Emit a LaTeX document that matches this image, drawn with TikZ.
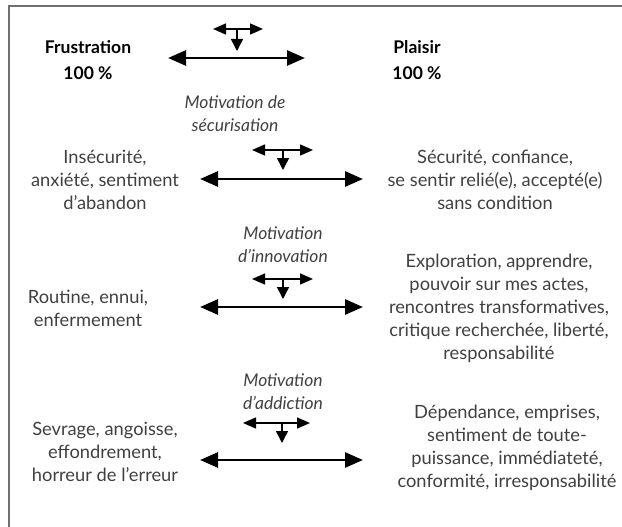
\documentclass[tikz,border=0pt]{standalone}
\usepackage{fontspec}
\setmainfont{Lato}
\usetikzlibrary{arrows.meta}
\definecolor{txt}{HTML}{404040}
\definecolor{frame}{HTML}{707070}
\begin{document}
\begin{tikzpicture}[x=1pt,y=-1pt,
 body/.style={font=\fontsize{18.3}{23}\selectfont, text=txt, align=center, inner sep=0pt},
 title/.style={font=\fontsize{17.5}{26}\selectfont\bfseries, align=center, inner sep=0pt},
 motiv/.style={font=\fontsize{17.5}{23}\selectfont\itshape, text=txt, align=center, inner sep=0pt},
 bigarrow/.style={line width=2.8pt, {Triangle[length=18pt,width=15pt]}-{Triangle[length=18pt,width=15pt]}},
 smallarrow/.style={line width=1.5pt, {Triangle[length=13pt,width=11pt]}-{Triangle[length=13pt,width=11pt]}},
 downarrow/.style={line width=1.5pt, -{Triangle[length=12pt,width=12pt]}},
]
\useasboundingbox (0,0) rectangle (622,527);
\draw[frame, line width=1.5pt] (9,527) -- (9,6) -- (622,6);

% titles
\node[title] (frus) at (88,60) {Frustration\\100 \%};
\node[title] (plai) at (417,60) {Plaisir\\100 \%};

% section 1 arrows
\coordinate (s1l) at (213,29); \coordinate (s1r) at (263,29);
\coordinate (s1m) at (237,29); \coordinate (s1d) at (237,51);
\coordinate (b1l) at (168,58); \coordinate (b1r) at (305,58);
\draw[smallarrow] (s1l) -- (s1r);
\draw[downarrow] (s1m) -- (s1d);
\draw[bigarrow] (b1l) -- (b1r);

% section 2
\node[motiv] (m2) at (235,114) {Motivation de\\sécurisation};
\node[body] (l2) at (105,180) {Insécurité,\\anxiété, sentiment\\d’abandon};
\node[body] (r2) at (495,180) {Sécurité, confiance,\\se sentir relié(e), accepté(e)\\sans condition};
\coordinate (s2l) at (252,150); \coordinate (s2r) at (313,150);
\coordinate (s2m) at (283,150); \coordinate (s2d) at (283,170);
\coordinate (b2l) at (200,179); \coordinate (b2r) at (363,179);
\draw[smallarrow] (s2l) -- (s2r);
\draw[downarrow] (s2m) -- (s2d);
\draw[bigarrow] (b2l) -- (b2r);

% section 3
\node[motiv] (m3) at (283,245) {Motivation\\d’innovation};
\node[body] (l3) at (88,308) {Routine, ennui,\\enfermement};
\node[body] (r3) at (499,308) {Exploration, apprendre,\\pouvoir sur mes actes,\\rencontres transformatives,\\critique recherchée, liberté,\\responsabilité};
\coordinate (s3l) at (252,279); \coordinate (s3r) at (313,279);
\coordinate (s3m) at (283,279); \coordinate (s3d) at (283,299);
\coordinate (b3l) at (200,307); \coordinate (b3r) at (363,307);
\draw[smallarrow] (s3l) -- (s3r);
\draw[downarrow] (s3m) -- (s3d);
\draw[bigarrow] (b3l) -- (b3r);

% section 4
\node[motiv] (m4) at (283,392) {Motivation\\d’addiction};
\node[body] (l4) at (105,452) {Sevrage, angoisse,\\effondrement,\\horreur de l’erreur};
\node[body] (r4) at (507,448) {Dépendance, emprises,\\sentiment de toute-\\puissance, immédiateté,\\conformité, irresponsabilité};
\coordinate (s4l) at (243,423); \coordinate (s4r) at (310,423);
\coordinate (s4m) at (282,423); \coordinate (s4d) at (282,443);
\coordinate (b4l) at (200,460); \coordinate (b4r) at (363,460);
\draw[smallarrow] (s4l) -- (s4r);
\draw[downarrow] (s4m) -- (s4d);
\draw[bigarrow] (b4l) -- (b4r);
\end{tikzpicture}
\end{document}
